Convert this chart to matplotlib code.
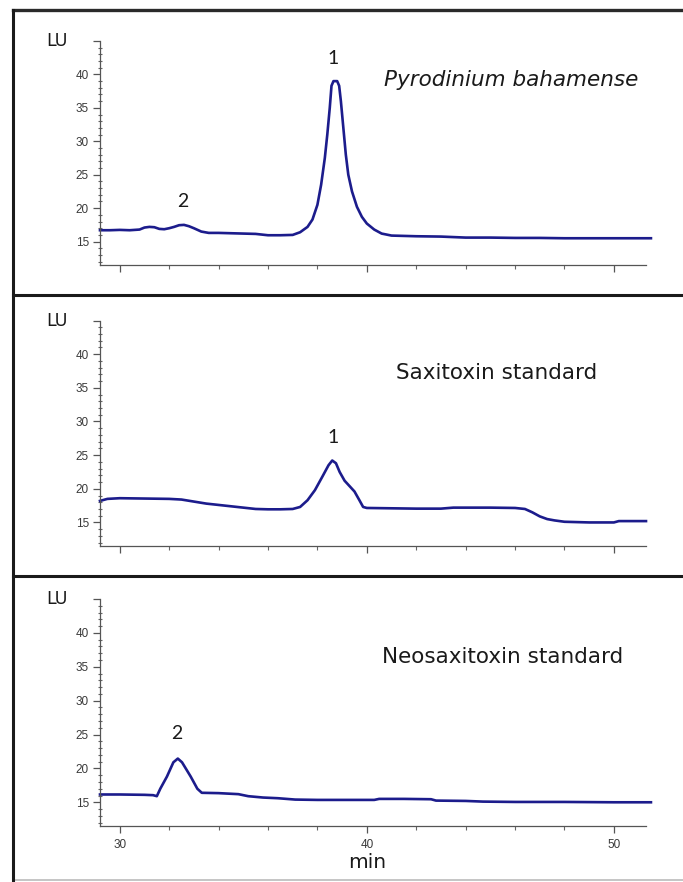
import matplotlib
matplotlib.use("Agg")
import matplotlib.pyplot as plt
from matplotlib.lines import Line2D
from matplotlib.ticker import FixedLocator, MultipleLocator, FuncFormatter

# ---------------- data ----------------
pyro_x = [29.2, 29.6, 30.0, 30.4, 30.8, 31.0, 31.2, 31.4, 31.6, 31.8, 32.0, 32.2, 32.4, 32.6,
          32.8, 33.0, 33.3, 33.6, 34.0, 34.5, 35.0, 35.5, 36.0, 36.5, 37.0, 37.3, 37.6, 37.8,
          38.0, 38.15, 38.3, 38.4, 38.5, 38.57, 38.65, 38.8, 38.88, 38.95, 39.05, 39.15, 39.25,
          39.4, 39.6, 39.8, 40.0, 40.3, 40.6, 41.0, 41.5, 42.0, 43.0, 44.0, 45.0, 46.0, 47.0,
          48.0, 49.0, 50.0, 51.0, 51.5]
pyro_y = [16.7, 16.7, 16.75, 16.7, 16.8, 17.1, 17.2, 17.15, 16.9, 16.85, 17.0, 17.2, 17.45, 17.5,
          17.3, 17.0, 16.5, 16.3, 16.3, 16.25, 16.2, 16.15, 15.95, 15.95, 16.0, 16.4, 17.2, 18.3,
          20.5, 23.5, 27.5, 31.0, 35.0, 38.3, 39.0, 39.0, 38.3, 36.0, 32.0, 28.0, 25.0,
          22.5, 20.2, 18.7, 17.7, 16.8, 16.2, 15.9, 15.85, 15.8, 15.75, 15.6, 15.6, 15.55, 15.55,
          15.5, 15.5, 15.5, 15.5, 15.5]

stx_x = [29.2, 29.5, 30.0, 31.0, 32.0, 32.5, 33.0, 33.5, 34.0, 34.5, 35.0, 35.5, 36.0, 36.5,
         37.0, 37.3, 37.6, 37.9, 38.2, 38.45, 38.6, 38.75, 38.9, 39.1, 39.3, 39.5, 39.7, 39.85,
         40.0, 41.0, 42.0, 43.0, 43.5, 44.0, 45.0, 46.0, 46.4, 46.7, 47.0, 47.3, 47.6, 48.0,
         49.0, 50.0, 50.2, 51.0, 51.3]
stx_y = [18.2, 18.5, 18.6, 18.55, 18.5, 18.4, 18.1, 17.8, 17.6, 17.4, 17.2, 17.0, 16.95, 16.95,
         17.0, 17.3, 18.3, 19.8, 21.8, 23.5, 24.2, 23.8, 22.5, 21.2, 20.4, 19.6, 18.3, 17.3,
         17.15, 17.1, 17.05, 17.05, 17.2, 17.2, 17.2, 17.15, 17.0, 16.5, 15.9, 15.5, 15.3, 15.1,
         15.0, 15.0, 15.2, 15.2, 15.2]

neo_x = [29.2, 30.0, 31.0, 31.35, 31.5, 31.64, 31.91, 32.17, 32.35, 32.52, 32.87, 33.14, 33.32,
         34.0, 34.8, 35.2, 35.8, 36.4, 37.1, 38.0, 39.0, 40.3, 40.5, 41.5, 42.6, 42.8, 44.0,
         44.7, 46.0, 48.0, 50.0, 51.5]
neo_y = [16.15, 16.15, 16.1, 16.05, 15.9, 17.0, 18.8, 20.9, 21.45, 20.9, 18.8, 17.0, 16.4,
         16.35, 16.2, 15.9, 15.7, 15.6, 15.4, 15.35, 15.35, 15.35, 15.5, 15.5, 15.45, 15.25, 15.2,
         15.1, 15.05, 15.05, 15.0, 15.0]

panel_titles = ["Pyrodinium bahamense", "Saxitoxin standard", "Neosaxitoxin standard"]
peak_labels = [[("1", 38.62, 42.4), ("2", 32.55, 21.0)],
               [("1", 38.62, 27.6)],
               [("2", 32.3, 25.2)]]
y_ticks = [15, 20, 25, 30, 35, 40, 45]
x_ticks = [30, 40, 50]
y_label = "LU"
x_label = "min"

# ---------------- figure ----------------
W, H = 683, 882
fig = plt.figure(figsize=(W / 100, H / 100), dpi=100)
fig.patch.set_facecolor("white")

def fx(px):
    return px / W

def fy(py):
    return 1 - py / H

line_color = "#1c1c8c"
text_font = ["DejaVu Sans"]
digit_font = ["Lato", "DejaVu Sans"]
tick_font = ["Liberation Sans", "DejaVu Sans"]

# axes rectangles (top, bottom pixel rows)
rows = [(41, 265), (320.5, 546), (599, 826)]
series = [(pyro_x, pyro_y), (stx_x, stx_y), (neo_x, neo_y)]
title_pos = [(0.753, 0.826), (0.727, 0.768), (0.738, 0.744)]

for i, ((top, bot), (xs, ys)) in enumerate(zip(rows, series)):
    ax = fig.add_axes([fx(100), fy(bot), fx(646) - fx(100), (bot - top) / H])
    ax.plot(xs, ys, color=line_color, lw=1.9, clip_on=False, solid_joinstyle="round")
    ax.set_xlim(29.2, 51.3)
    ax.set_ylim(11.5, 45)
    for s in ["top", "right"]:
        ax.spines[s].set_visible(False)
    for s in ["left", "bottom"]:
        ax.spines[s].set_color("#555555")
        ax.spines[s].set_linewidth(0.9)
    ax.yaxis.set_major_locator(FixedLocator(y_ticks))
    ax.yaxis.set_major_formatter(FuncFormatter(lambda v, p: "" if v > 42 else f"{v:.0f}"))
    ax.yaxis.set_minor_locator(MultipleLocator(1))
    ax.xaxis.set_major_locator(FixedLocator(x_ticks))
    ax.xaxis.set_minor_locator(MultipleLocator(2))
    ax.tick_params(axis="y", which="major", direction="out", length=5, width=0.9,
                   color="#555555", labelsize=8.5, labelcolor="#3a3a3a", pad=3)
    ax.tick_params(axis="y", which="minor", direction="inout", length=3, width=0.8,
                   color="#666666")
    ax.tick_params(axis="x", which="major", direction="out", length=5, width=0.9,
                   color="#555555", labelsize=8.5, labelcolor="#3a3a3a", pad=4.5)
    ax.tick_params(axis="x", which="minor", direction="out", length=3, width=0.8,
                   color="#666666")
    for lab in ax.get_yticklabels() + ax.get_xticklabels():
        lab.set_family(tick_font)
    if i < 2:
        ax.set_xticklabels([])
    ax.text(-0.079, 1.0, y_label, transform=ax.transAxes, ha="center", va="center",
            fontsize=12.5, family=text_font, color="#1a1a1a")
    tx, ty = title_pos[i]
    ax.text(tx, ty, panel_titles[i], transform=ax.transAxes, ha="center", va="center",
            fontsize=15.5, family=text_font, color="#1a1a1a",
            style="italic" if i == 0 else "normal")
    for lab, px_, py_ in peak_labels[i]:
        ax.text(px_, py_, lab, ha="center", va="center", fontsize=14,
                family=digit_font, color="#1a1a1a")
    if i == 2:
        ax.text(0.489, (826 - 862) / (826 - 599), x_label, transform=ax.transAxes,
                ha="center", va="center", fontsize=14.5, family=text_font, color="#1a1a1a")

# panel frame lines
def hline(py, color="#1a1a1a", lw=2.2):
    fig.add_artist(Line2D([fx(13), 1.0], [fy(py), fy(py)], color=color, lw=lw,
                          transform=fig.transFigure))

hline(9.5, color="#2a2a2a", lw=2.4)
hline(295)
hline(576)
hline(880, color="#bbbbbb", lw=1.2)
fig.add_artist(Line2D([fx(13), fx(13)], [fy(9.5), fy(880)], color="#1a1a1a", lw=2.2,
                      transform=fig.transFigure))

fig.savefig("out.png", dpi=100)
